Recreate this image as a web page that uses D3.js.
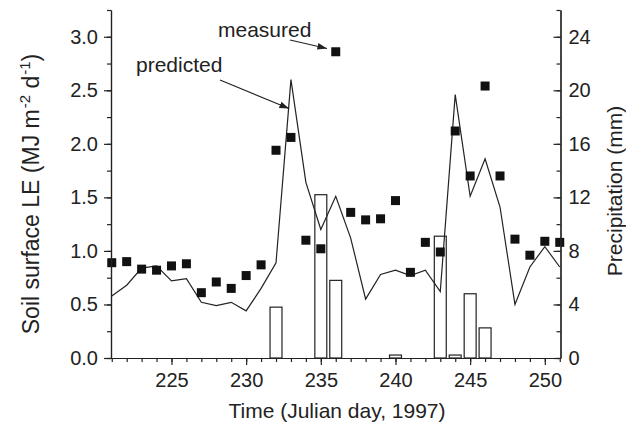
<!DOCTYPE html>
<html>
<head>
<meta charset="utf-8">
<script src="https://cdn.jsdelivr.net/npm/d3@7"></script>
<style>
  body { margin: 0; background: #fff; }
  svg text { font-family: "Liberation Sans", Arial, sans-serif; fill: #222; }
  .axis path, .axis line { stroke: #222; stroke-width: 1.2; }
  .axis text { font-size: 20px; }
</style>
</head>
<body>
<svg id="chart" width="626" height="425"></svg>
<script>
// days 221..251
let days = d3.range(221, 252);

// measured soil surface LE (MJ m-2 d-1)
let measured = [0.89, 0.90, 0.83, 0.82, 0.86, 0.88, 0.61, 0.71, 0.65, 0.77, 0.87,
                1.94, 2.06, 1.10, 1.02, 2.86, 1.36, 1.29, 1.30, 1.47, 0.80,
                1.08, 0.99, 2.12, 1.70, 2.54, 1.70, 1.11, 0.96, 1.09, 1.08];

// predicted soil surface LE
let predicted = [0.58, 0.68, 0.84, 0.86, 0.72, 0.74, 0.52, 0.49, 0.52, 0.44, 0.65,
                 0.89, 2.60, 1.64, 1.20, 1.51, 1.12, 0.55, 0.78, 0.82, 0.77,
                 0.82, 0.62, 2.46, 1.51, 1.86, 1.41, 0.50, 0.85, 1.04, 0.85];

// precipitation (mm)
let rainDays = [232, 235, 236, 240, 243, 244, 245, 246];
let rain = [3.8, 12.2, 5.8, 0.22, 9.1, 0.22, 4.8, 2.25];

let xTicks = [225, 230, 235, 240, 245, 250],
    leTicks = [0, 0.5, 1.0, 1.5, 2.0, 2.5, 3.0],
    rainTicks = [0, 4, 8, 12, 16, 20, 24];

let margins = {top: 10, bottom: 67, left: 111, right: 65.5},
    width = 626, height = 425;

let svg = d3.select("#chart");

let x = d3.scaleLinear().domain([220.95, 251.05]).range([margins.left, width - margins.right]),
    y = d3.scaleLinear().domain([0, 3.25]).range([height - margins.bottom, margins.top]),
    y2 = d3.scaleLinear().domain([0, 26]).range([height - margins.bottom, margins.top]);

// bars
svg.append("g").selectAll("rect")
  .data(rainDays.map((d, i) => ({day: d, v: rain[i]})))
  .enter().append("rect")
  .attr("x", d => x(d.day - 0.4))
  .attr("width", x(0.8) - x(0))
  .attr("y", d => y2(d.v))
  .attr("height", d => y2(0) - y2(d.v))
  .attr("fill", "#fff")
  .attr("stroke", "#222")
  .attr("stroke-width", 1.2);

// predicted line
svg.append("path")
  .datum(days.map((d, i) => [d, predicted[i]]))
  .attr("fill", "none")
  .attr("stroke", "#222")
  .attr("stroke-width", 1.2)
  .attr("d", d3.line().x(d => x(d[0])).y(d => y(d[1])));

// measured squares
let s = 9;
svg.append("g").selectAll("rect")
  .data(days.map((d, i) => [d, measured[i]]))
  .enter().append("rect")
  .attr("x", d => x(d[0]) - s / 2)
  .attr("y", d => y(d[1]) - s / 2)
  .attr("width", s).attr("height", s)
  .attr("fill", "#111");

// axes
let bottomY = height - margins.bottom;
svg.append("g").attr("class", "axis")
  .attr("transform", `translate(0,${bottomY})`)
  .call(d3.axisBottom(x).tickValues(days).tickSize(4).tickSizeOuter(0).tickFormat(""));
svg.append("g").attr("class", "axis")
  .attr("transform", `translate(0,${bottomY})`)
  .call(d3.axisBottom(x).tickValues(xTicks).tickSize(7).tickSizeOuter(0).tickPadding(8).tickFormat(d3.format("d")));

svg.append("g").attr("class", "axis")
  .attr("transform", `translate(${margins.left},0)`)
  .call(d3.axisLeft(y).tickValues(d3.range(0, 3.26, 0.25)).tickSize(4).tickSizeOuter(0).tickFormat(""));
svg.append("g").attr("class", "axis")
  .attr("transform", `translate(${margins.left},0)`)
  .call(d3.axisLeft(y).tickValues(leTicks).tickSize(7).tickSizeOuter(0).tickPadding(6).tickFormat(d3.format(".1f")));

let rightX = width - margins.right;
svg.append("g").attr("class", "axis")
  .attr("transform", `translate(${rightX},0)`)
  .call(d3.axisRight(y2).tickValues(d3.range(0, 27, 2)).tickSize(-4).tickSizeOuter(0).tickFormat(""));
svg.append("g").attr("class", "axis")
  .attr("transform", `translate(${rightX},0)`)
  .call(d3.axisRight(y2).tickValues(rainTicks).tickSize(-7).tickSizeOuter(0).tickPadding(8).tickFormat(d3.format("d")));

// axis titles
svg.append("text")
  .attr("x", 337).attr("y", 418)
  .attr("text-anchor", "middle")
  .attr("font-size", 21)
  .text("Time (Julian day, 1997)");

let lt = svg.append("text")
  .attr("transform", "translate(39,194) rotate(-90)")
  .attr("text-anchor", "middle")
  .attr("font-size", 23);
lt.append("tspan").text("Soil surface LE (MJ m");
lt.append("tspan").attr("font-size", 15).attr("dy", -9).attr("dx", 1).text("-2");
lt.append("tspan").attr("dy", 9).text(" d");
lt.append("tspan").attr("font-size", 15).attr("dy", -9).attr("dx", 1).text("-1");
lt.append("tspan").attr("dy", 9).text(")");

svg.append("text")
  .attr("transform", "translate(622,191) rotate(-90)")
  .attr("text-anchor", "middle")
  .attr("font-size", 21)
  .text("Precipitation (mm)");

// annotations
svg.append("defs").append("marker")
  .attr("id", "head").attr("viewBox", "0 0 10 10")
  .attr("refX", 10).attr("refY", 5)
  .attr("markerWidth", 8).attr("markerHeight", 8)
  .attr("orient", "auto")
  .append("path").attr("d", "M0,1.5L10,5L0,8.5Z").attr("fill", "#222");

svg.append("text").attr("x", 218).attr("y", 37).attr("font-size", 21).text("measured");
svg.append("line")
  .attr("x1", 290).attr("y1", 40).attr("x2", 327).attr("y2", 48.5)
  .attr("stroke", "#222").attr("stroke-width", 1.2).attr("marker-end", "url(#head)");

svg.append("text").attr("x", 136).attr("y", 72).attr("font-size", 21).text("predicted");
svg.append("line")
  .attr("x1", 220).attr("y1", 80).attr("x2", 289).attr("y2", 108.5)
  .attr("stroke", "#222").attr("stroke-width", 1.2).attr("marker-end", "url(#head)");
</script>
</body>
</html>
